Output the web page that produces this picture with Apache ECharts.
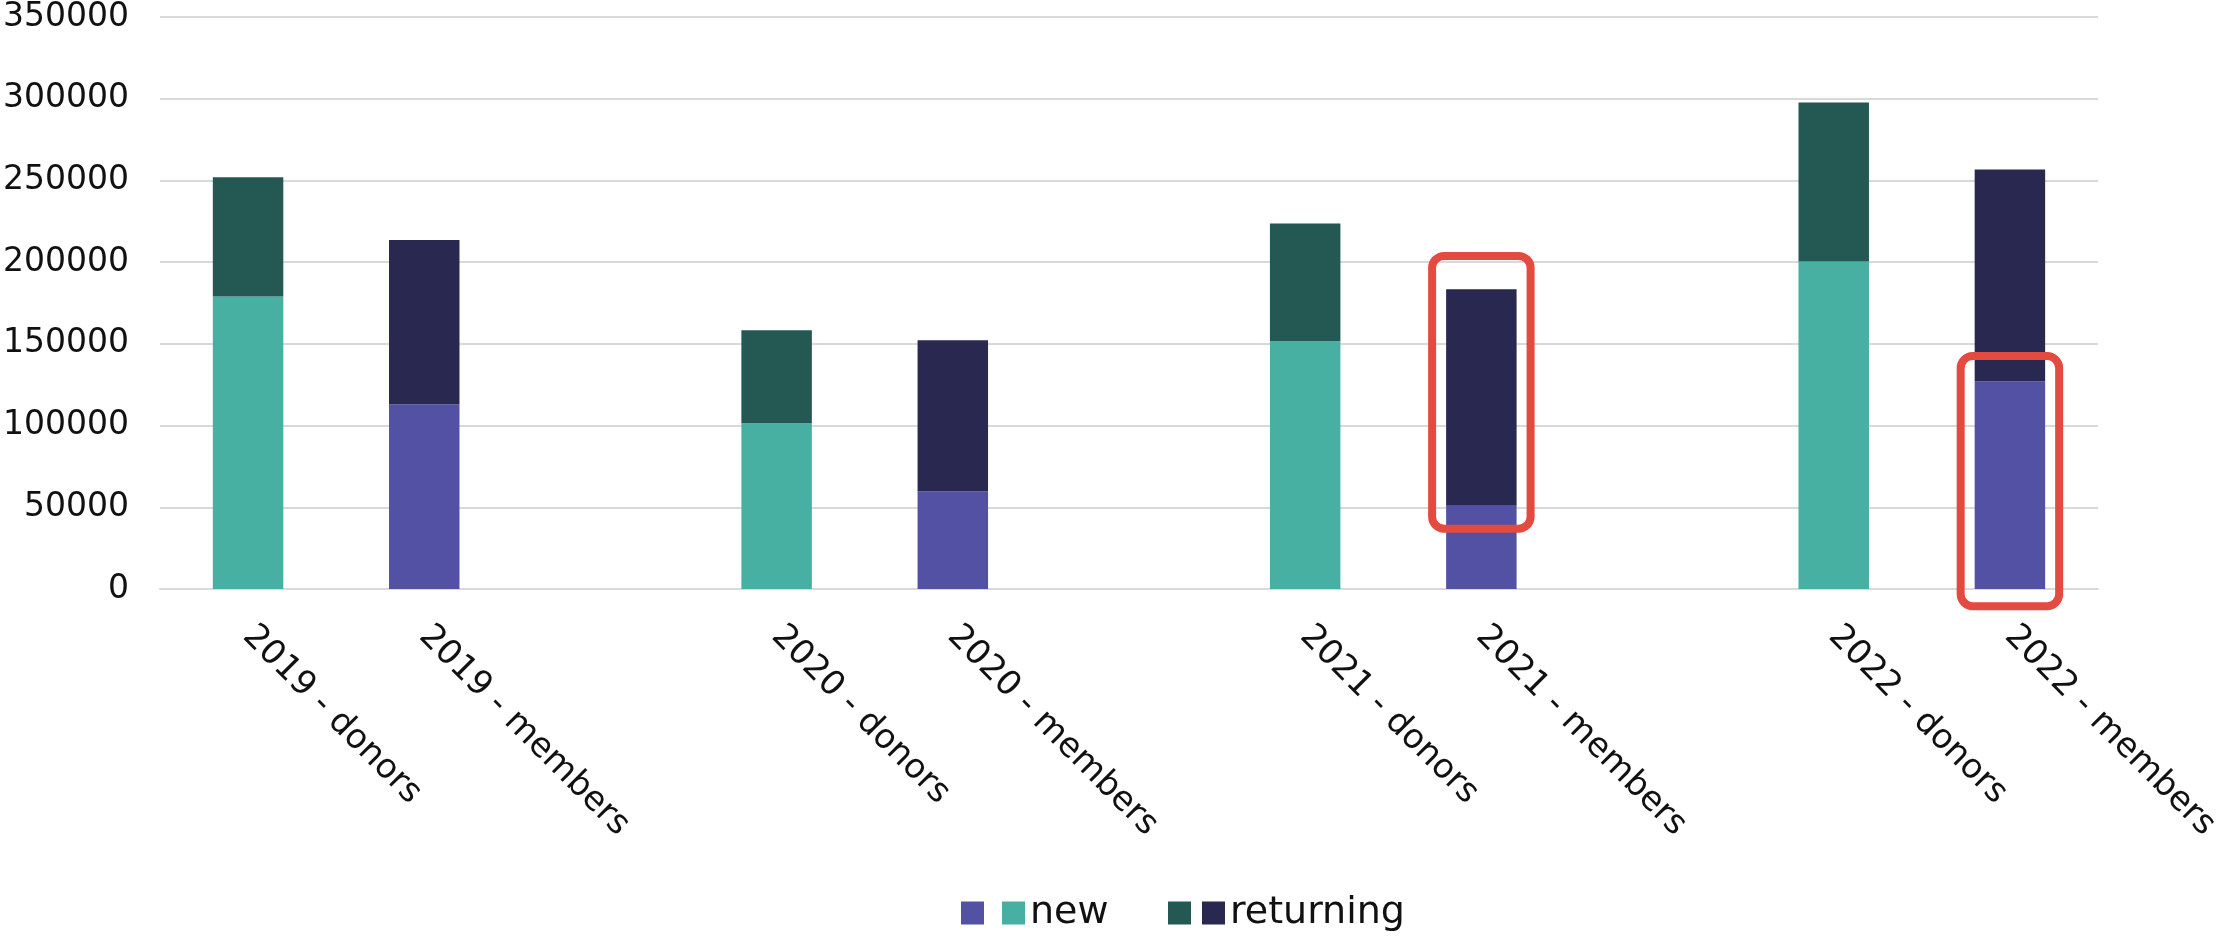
<!DOCTYPE html>
<html>
<head>
<meta charset="utf-8">
<script src="https://cdn.jsdelivr.net/npm/echarts@6/dist/echarts.min.js"></script>
<style>
html,body{margin:0;padding:0;background:#fff;}
#chart{width:2229px;height:937px;}
</style>
</head>
<body>
<div id="chart"></div>
<script>
// Categories (empty strings are spacer slots between years)
const categories = ['2019 - donors','2019 - members','','2020 - donors','2020 - members','','2021 - donors','2021 - members','','2022 - donors','2022 - members'];
// Series values ('-' = not applicable for that category)
const donorsNew        = [179000,'-','-',101400,'-','-',151600,'-','-',200400,'-'];
const donorsReturning  = [73000,'-','-',57000,'-','-',72000,'-','-',97350,'-'];
const membersNew       = ['-',113000,'-','-',59800,'-','-',51000,'-','-',127100];
const membersReturning = ['-',100500,'-','-',92400,'-','-',132400,'-','-',129600];
// Highlight boxes: [category index, low value, high value]
const highlights = [[7,36900,203800],[10,-10500,142500]];
// Y axis ticks
const yMin = 0, yMax = 350000, yStep = 50000;

const FONT = 'DejaVu Sans';
const C = {teal:'#48afa3', dkgreen:'#245852', purple:'#5351a3', navy:'#292851', red:'#e34a40'};

const chart = echarts.init(document.getElementById('chart'));
chart.setOption({
  animation:false,
  backgroundColor:'#ffffff',
  grid:{left:159,right:131,top:17,bottom:348},
  legend:[{
    data:['members new','donors new'],
    left:956, top:889, itemWidth:23, itemHeight:23, itemGap:18,
    icon:'rect',
    formatter:n=> n==='donors new'?'new':'',
    textStyle:{fontFamily:FONT,fontSize:38,color:'#111'}
  },{
    data:['donors returning','members returning'],
    left:1163, top:889, itemWidth:23, itemHeight:23, itemGap:11,
    icon:'rect',
    formatter:n=> n==='members returning'?'returning':'',
    textStyle:{fontFamily:FONT,fontSize:38,color:'#111'}
  }],
  xAxis:{
    type:'category',
    data:categories,
    axisLine:{show:true,lineStyle:{color:'#d9d9d9',width:2}},
    axisTick:{show:false},
    axisLabel:{interval:0,rotate:-45,margin:42,fontFamily:FONT,fontSize:34,color:'#111'}
  },
  yAxis:{
    type:'value',min:yMin,max:yMax,interval:yStep,
    axisLine:{show:false},axisTick:{show:false},
    splitLine:{lineStyle:{color:'#d9d9d9',width:2}},
    axisLabel:{margin:31,fontFamily:FONT,fontSize:33,color:'#111',formatter:v=>String(v)}
  },
  series:[
    {name:'members new',type:'bar',stack:'t',barWidth:'40%',data:membersNew,itemStyle:{color:C.purple}},
    {name:'donors new',type:'bar',stack:'t',barWidth:'40%',data:donorsNew,itemStyle:{color:C.teal}},
    {name:'donors returning',type:'bar',stack:'t',barWidth:'40%',data:donorsReturning,itemStyle:{color:C.dkgreen}},
    {name:'members returning',type:'bar',stack:'t',barWidth:'40%',data:membersReturning,itemStyle:{color:C.navy}},
    {
      name:'highlight',type:'custom',clip:false,z:10,
      data:highlights,
      renderItem:function(params,api){
        const cat=api.value(0);
        const lo=api.coord([cat,api.value(1)]);
        const hi=api.coord([cat,api.value(2)]);
        const half=api.size([1,0])[0]*0.4/2+14;
        return {
          type:'rect',
          shape:{x:lo[0]-half,y:hi[1],width:half*2,height:lo[1]-hi[1],r:12},
          style:{fill:'none',stroke:C.red,lineWidth:8}
        };
      }
    }
  ]
});
</script>
</body>
</html>
